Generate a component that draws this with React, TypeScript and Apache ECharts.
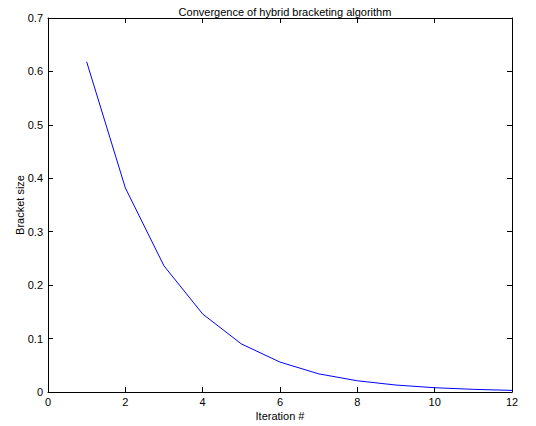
import React, { useEffect, useRef } from "react";
import * as echarts from "echarts";

const iterations = [1, 2, 3, 4, 5, 6, 7, 8, 9, 10, 11, 12];
const bracketSize = [0.618, 0.382, 0.236, 0.146, 0.09, 0.056, 0.034, 0.021, 0.013, 0.008, 0.005, 0.003];
const titleText = "Convergence of hybrid bracketing algorithm";
const xName = "Iteration #";
const yName = "Bracket size";

export default function App() {
  const ref = useRef<HTMLDivElement>(null);
  useEffect(() => {
    const chart = echarts.init(ref.current!, null, { renderer: "svg" });
    const font = "'Liberation Sans', Arial, Helvetica, sans-serif";
    const axisCommon = {
      type: "value" as const,
      axisLine: { show: true, onZero: false, lineStyle: { color: "#000", width: 1 } },
      axisTick: { show: true, inside: true, length: 5, lineStyle: { color: "#000" } },
      splitLine: { show: false },
    };
    chart.setOption({
      animation: false,
      backgroundColor: "#fff",
      textStyle: { fontFamily: font },
      title: {
        text: titleText,
        left: 280,
        textAlign: "center",
        top: 1,
        textStyle: { fontSize: 11, fontWeight: "normal", color: "#000", fontFamily: font },
      },
      grid: { left: 48, right: 24, top: 18, bottom: 32, containLabel: false },
      xAxis: [
        {
          ...axisCommon,
          min: 0,
          max: 12,
          interval: 2,
          position: "bottom",
          name: xName,
          nameLocation: "middle",
          nameGap: 18,
          nameMoveOverlap: false,
          nameTextStyle: { fontSize: 11, color: "#000", fontFamily: font },
          axisLabel: { fontSize: 11, color: "#000", margin: 4, fontFamily: font },
        },
        {
          ...axisCommon,
          min: 0,
          max: 12,
          interval: 2,
          position: "top",
          axisLabel: { show: false },
        },
      ],
      yAxis: [
        {
          ...axisCommon,
          min: 0,
          max: 0.7,
          interval: 0.1,
          position: "left",
          name: yName,
          nameLocation: "middle",
          nameGap: 23,
          nameMoveOverlap: false,
          nameTextStyle: { fontSize: 11, color: "#000", fontFamily: font },
          axisLabel: { fontSize: 11, color: "#000", margin: 5, fontFamily: font },
        },
        {
          ...axisCommon,
          min: 0,
          max: 0.7,
          interval: 0.1,
          position: "right",
          axisLabel: { show: false },
        },
      ],
      series: [
        {
          type: "line",
          data: iterations.map((x, i) => [x, bracketSize[i]]),
          showSymbol: false,
          symbol: "none",
          lineStyle: { color: "#0000ff", width: 1 },
          itemStyle: { color: "#0000ff" },
        },
      ],
    });
    return () => chart.dispose();
  }, []);
  return <div ref={ref} style={{ width: 536, height: 426, position: "absolute", left: 0, top: 0 }} />;
}
